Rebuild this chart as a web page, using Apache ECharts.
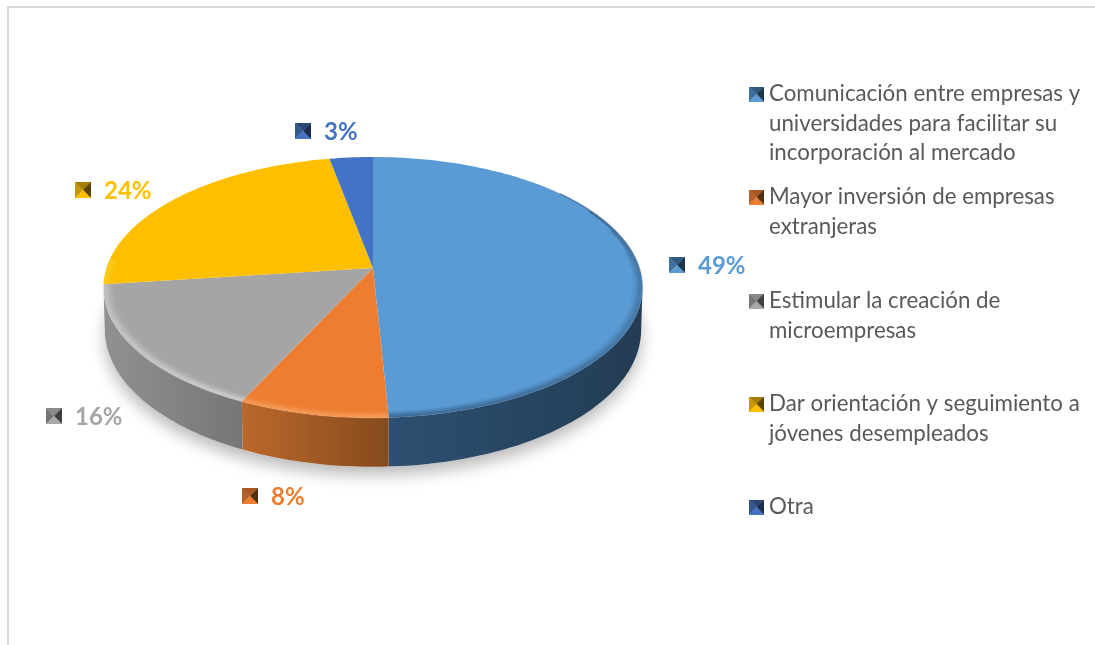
<!DOCTYPE html>
<html>
<head>
<meta charset="utf-8">
<title>Pie</title>
<style>
  html, body { margin: 0; padding: 0; background: #fff; }
  #chart { width: 1095px; height: 645px; }
</style>
<script src="https://cdn.jsdelivr.net/npm/echarts@6/dist/echarts.min.js"></script>
</head>
<body>
<div id="chart"></div>
<script>
// values (labels show them rounded)
const categories = [
    'Comunicación entre empresas y universidades para facilitar su incorporación al mercado',
    'Mayor inversión de empresas extranjeras',
    'Estimular la creación de microempresas',
    'Dar orientación y seguimiento a jóvenes desempleados',
    'Otra'
];
const percentages = [49.2, 7.8, 16, 24, 3];
const legendLines = [
    ['Comunicación entre empresas y', 'universidades para facilitar su', 'incorporación al mercado'],
    ['Mayor inversión de empresas', 'extranjeras'],
    ['Estimular la creación de', 'microempresas'],
    ['Dar orientación y seguimiento a', 'jóvenes desempleados'],
    ['Otra']
];

// styles
const topColors = ['#5b9bd5', '#ed7d31', '#a5a5a5', '#fdbf00', '#4472c4'];
const wallColors = [
    ['#2d5072', '#233c53'],
    ['#bb682b', '#864a1d'],
    ['#919191', '#767676'],
    ['#c79a10', '#a88208'],
    ['#2f4f88', '#2a4678']
];
const rimColors = ['rgba(25,50,75,', 'rgba(255,190,130,', 'rgba(255,255,255,', 'rgba(255,230,90,', 'rgba(20,40,80,'];
const labelColors = ['#5b9bd5', '#ed7d31', '#a5a5a5', '#ffc000', '#4472c4'];
const iconShades = [
    { left: '#3d6f9f', top: '#2f5a82', right: '#1d3549', bottom: '#5b9bd5' },
    { left: '#b5602a', top: '#a8581f', right: '#50300f', bottom: '#ed7d31' },
    { left: '#757575', top: '#8a8a8a', right: '#3f3f3f', bottom: '#a8a8a8' },
    { left: '#c79600', top: '#a47c00', right: '#5a4400', bottom: '#ffc000' },
    { left: '#34578f', top: '#2a4674', right: '#1b2d4c', bottom: '#4472c4' }
];

// layout of the disc, label icons and legend rows
const apexX = 373, apexY = 268, radiusX = 266.5, radiusY = 127.5, persp = 0.149;
const labelAnchors = [[677, 265], [250, 496], [54, 416], [83, 190], [303, 131]];
const legendFirstLineY = [94, 197, 301, 404, 507];
const legendLineHeight = 29.5;

// pyramid shaped marker as Excel draws it
function makeIcon(shade) {
    const s = 32;
    const cv = document.createElement('canvas');
    cv.width = s; cv.height = s;
    const c = cv.getContext('2d');
    const tri = (pts, col) => {
        c.fillStyle = col;
        c.beginPath();
        c.moveTo(pts[0][0], pts[0][1]);
        c.lineTo(pts[1][0], pts[1][1]);
        c.lineTo(s / 2, s / 2);
        c.closePath();
        c.fill();
    };
    tri([[0, 0], [0, s]], shade.left);
    tri([[0, 0], [s, 0]], shade.top);
    tri([[s, 0], [s, s]], shade.right);
    tri([[0, s], [s, s]], shade.bottom);
    return cv.toDataURL();
}
const icons = iconShades.map(makeIcon);

// point of the tilted disc for a share of the turn, 0 = top, clockwise
function topPoint(share, scale) {
    const a = share / 100 * Math.PI * 2;
    const u = Math.sin(a) * scale, v = -Math.cos(a) * scale;
    const w = 1 - persp * v;
    return [apexX + radiusX * u / w, apexY + radiusY * v / w, v];
}
function bottomPoint(share) {
    const p = topPoint(share, 1);
    return [apexX + (p[0] - apexX) * 0.995, p[1] + 41 + 8 * p[2]];
}
function arcPoints(from, to, fn) {
    const pts = [];
    const steps = Math.max(2, Math.ceil((to - from) * 3));
    for (let i = 0; i <= steps; i++) {
        pts.push(fn(from + (to - from) * i / steps));
    }
    return pts;
}

// the wall only shows on the front of the disc
const wallFrom = (Math.PI - Math.acos(persp)) / (Math.PI * 2) * 100;
const wallTo = 100 - wallFrom;
// bevel shows from the right shoulder round to the left edge, inner layers start later
const bevelFrom = 14, bevelTo = 76;
const bevelLayers = [[0.998, 0.3, 0], [0.99, 0.32, 3], [0.982, 0.22, 6], [0.974, 0.12, 9], [0.966, 0.05, 12]];

function sliceRenderer(idx) {
    const start = percentages.slice(0, idx).reduce((a, b) => a + b, 0);
    return function (params, api) {
        const value = api.value(0);
        const end = start + value;
        const children = [];
        const wf = Math.max(start, wallFrom), wt = Math.min(end, wallTo);

        if (wt > wf) {
            const upper = arcPoints(wf, wt, s => topPoint(s, 1).slice(0, 2));
            const lower = arcPoints(wf, wt, bottomPoint).reverse();
            children.push({
                type: 'polygon',
                shape: { points: upper.concat(lower) },
                style: {
                    fill: new echarts.graphic.LinearGradient(0, 0, 1, 0, [
                        { offset: 0, color: wallColors[idx][0] },
                        { offset: 1, color: wallColors[idx][1] }
                    ])
                }
            });
        }

        const rim = arcPoints(start, end, s => topPoint(s, 1).slice(0, 2));
        children.push({
            type: 'polygon',
            shape: { points: [[apexX, apexY]].concat(rim) },
            style: { fill: topColors[idx] }
        });

        // soft bevel along the rim
        bevelLayers.forEach(layer => {
            const bf = Math.max(start, bevelFrom + layer[2]), bt = Math.min(end, bevelTo);
            if (bt <= bf) return;
            children.push({
                type: 'polyline',
                shape: { points: arcPoints(bf, bt, s => topPoint(s, layer[0]).slice(0, 2)) },
                style: { fill: 'none', stroke: rimColors[idx] + layer[1] + ')', lineWidth: 2 }
            });
        });

        const anchor = labelAnchors[idx];
        children.push({
            type: 'image',
            style: { image: icons[idx], x: anchor[0] - 8, y: anchor[1] - 8, width: 16, height: 16 }
        });
        children.push({
            type: 'text',
            style: {
                text: Math.round(value) + '%',
                x: anchor[0] + 21, y: anchor[1] + 1,
                verticalAlign: 'middle',
                fill: labelColors[idx],
                font: 'bold 24px Lato'
            }
        });
        return { type: 'group', children: children };
    };
}

const chart = echarts.init(document.getElementById('chart'));

const sliceSeries = categories.map((name, i) => ({
    name: name,
    type: 'custom',
    coordinateSystem: 'none',
    silent: true,
    animation: false,
    itemStyle: { color: topColors[i] },
    data: [[percentages[i]]],
    renderItem: sliceRenderer(i),
    z: 3
}));

// drop shadow under the disc
const shadowSeries = {
    name: 'sombra',
    type: 'custom',
    coordinateSystem: 'none',
    silent: true,
    animation: false,
    data: [[100]],
    renderItem: function (params, api) {
        return {
            type: 'polygon',
            shape: { points: arcPoints(0, api.value(0), bottomPoint) },
            style: {
                fill: '#fff',
                shadowBlur: 16,
                shadowColor: 'rgba(0,0,0,0.28)',
                shadowOffsetY: 8
            }
        };
    },
    z: 2
};

const legends = categories.map((name, i) => {
    const n = legendLines[i].length;
    return {
        left: 749,
        top: legendFirstLineY[i] - (2 * n - 1) * legendLineHeight / 2,
        padding: 0,
        selectedMode: false,
        itemWidth: 15,
        itemHeight: 15,
        data: [{ name: name, icon: 'image://' + icons[i] }],
        // icon sits on the first line, so pad the text with empty lines above it
        formatter: () => '\n'.repeat(n - 1) + legendLines[i].join('\n'),
        textStyle: {
            color: '#595959',
            fontFamily: 'Lato',
            fontSize: 22.3,
            lineHeight: legendLineHeight
        }
    };
});

chart.setOption({
    backgroundColor: '#fff',
    animation: false,
    legend: legends,
    graphic: [{
        type: 'polyline',
        silent: true,
        shape: { points: [[8, 645], [8, 7], [1095, 7]] },
        style: { fill: 'none', stroke: '#d9d9d9', lineWidth: 2 }
    }],
    series: [shadowSeries].concat(sliceSeries)
});

window.addEventListener('resize', () => chart.resize());
</script>
</body>
</html>
